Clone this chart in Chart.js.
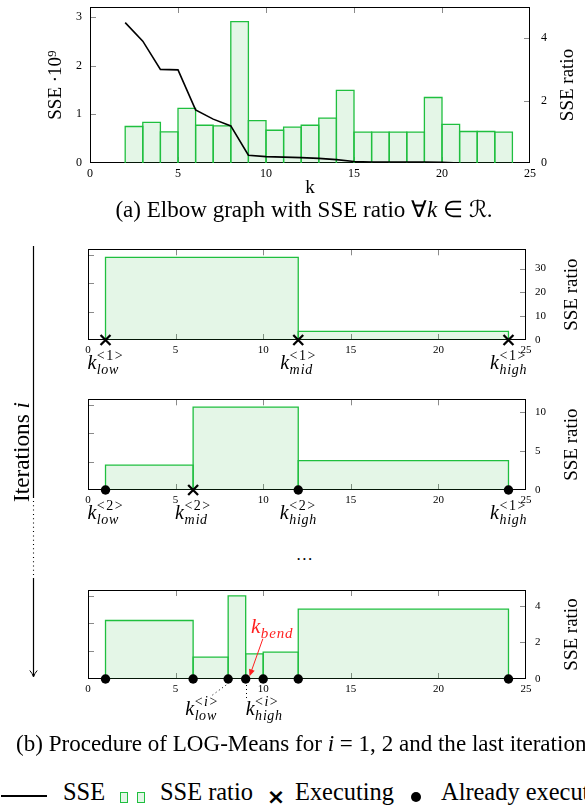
<!DOCTYPE html>
<html lang="en">
<head>
<meta charset="UTF-8">
<title>LOG-Means</title>
<style>
  html, body { margin: 0; padding: 0; background: #fff; }
  body { width: 585px; height: 808px; position: relative; overflow: hidden; font-family: "Liberation Serif", serif; color: #000; }
  canvas { position: absolute; left: 0; }
  .txt { position: absolute; white-space: nowrap; line-height: 1; }
  .box { position: absolute; width: 6px; height: 9px; border: 1px solid #1fbf3f; background: #e3f6e7; }
</style>
</head>
<body>
<canvas id="elbow" width="585" height="200" style="top:0"></canvas>
<div id="capA" class="txt" style="left:304px;top:205px;font-size:22px;transform:translateX(-50%)">(a) Elbow graph with SSE ratio ∀<i>k</i> ∈ ℛ.</div>

<svg width="60" height="700" style="position:absolute;left:0;top:0">
  <line x1="33.5" y1="246" x2="33.5" y2="498" stroke="#000" stroke-width="1.2"/>
  <line x1="33.5" y1="501" x2="33.5" y2="576" stroke="#000" stroke-width="1.1" stroke-dasharray="1 3.3"/>
  <line x1="33.5" y1="578" x2="33.5" y2="676" stroke="#000" stroke-width="1.2"/>
  <path d="M29.8 670.5 Q32.2 673 33.5 677 Q34.8 673 37.2 670.5" fill="none" stroke="#000" stroke-width="1"/>
</svg>
<div id="iterTxt" class="txt" style="left:22px;top:452px;font-size:20px;transform:translate(-50%,-50%) rotate(-90deg)">Iterations <i>i</i></div>

<canvas id="iter1" width="585" height="148" style="top:240px"></canvas>
<canvas id="iter2" width="585" height="148" style="top:390px"></canvas>
<div class="txt" style="left:305px;top:546px;font-size:17px;letter-spacing:1.5px;transform:translateX(-50%)">...</div>
<canvas id="iterLast" width="585" height="150" style="top:580px"></canvas>

<div id="capB" class="txt" style="left:16px;top:741px;font-size:22px">(b) Procedure of LOG-Means for <i>i</i> = 1, 2 and the last iteration</div>

<div style="position:absolute;left:1px;top:795px;width:46px;height:1.6px;background:#000"></div>
<div class="txt leg" style="left:63px;top:785px;font-size:22px">SSE</div>
<div class="box" style="left:120px;top:792px"></div>
<div class="box" style="left:137px;top:792px"></div>
<div class="txt leg" style="left:160px;top:785px;font-size:22px">SSE ratio</div>
<div class="txt" style="left:276px;top:797px;font-size:22px;font-weight:bold;font-family:'DejaVu Sans',sans-serif;transform:translate(-50%,-50%)">×</div>
<div id="legExec" class="txt leg" style="left:295px;top:785px;font-size:22px">Executing</div>
<div style="position:absolute;left:411px;top:792px;width:10px;height:10px;border-radius:50%;background:#000"></div>
<div class="txt leg" style="left:441px;top:785px;font-size:22px">Already executed</div>

<script src="https://cdn.jsdelivr.net/npm/chart.js"></script>
<script>
  // elbow graph (a)
  const k = [2,3,4,5,6,7,8,9,10,11,12,13,14,15,16,17,18,19,20,21,22,23,24];
  const sse = [2.88,2.50,1.92,1.91,1.09,0.90,0.76,0.16,0.13,0.12,0.11,0.095,0.07,0.03,0.02,0.02,0.02,0.02,0.015,0.0];
  const sseRatio = [1.17,1.30,1.00,1.75,1.21,1.19,4.53,1.36,1.05,1.15,1.21,1.44,2.33,0.99,0.99,0.99,0.99,2.10,1.24,1.01,1.01,0.99];

  // iteration 1
  const edges1 = [1,12,24];
  const ratio1 = [34.7,3.6];
  const running1 = [1,12,24];
  const done1 = [];
  const labels1 = [[1,'low','1'],[12,'mid','1'],[24,'high','1']];

  // iteration 2
  const edges2 = [1,6,12,24];
  const ratio2 = [3.2,10.7,3.8];
  const running2 = [6];
  const done2 = [1,12,24];
  const labels2 = [[1,'low','2'],[6,'mid','2'],[12,'high','2'],[24,'high','1']];

  // last iteration
  const edges3 = [1,6,8,9,10,12,24];
  const ratio3 = [3.2,1.2,4.55,1.37,1.47,3.82];
  const running3 = [];
  const done3 = [1,6,8,9,10,12,24];
  const labels3 = [[6.5,'low','i'],[10.05,'high','i']];
  const kLow = 8, kHigh = 9, kBend = 9;

  // fit html texts to the widths measured on the reference
  function fitText(el, w, vertical) {
    const fs = parseFloat(el.style.fontSize);
    const r = el.getBoundingClientRect();
    const size = fs * w / (vertical ? r.height : r.width);
    el.style.fontSize = size.toFixed(2) + 'px';
    return size;
  }
  const capSize = fitText(document.getElementById('capA'), 378);
  const capB = document.getElementById('capB');
  capB.style.fontSize = capSize.toFixed(2) + 'px';
  document.getElementById('capA').style.top = (219 - capSize * 0.89) + 'px';
  capB.style.top = (753 - capSize * 0.89) + 'px';
  fitText(document.getElementById('iterTxt'), 100, true);
  const legSize = fitText(document.getElementById('legExec'), 99);
  document.querySelectorAll('.leg').forEach(e => {
    e.style.fontSize = legSize.toFixed(2) + 'px';
    e.style.top = (802 - legSize * 0.89) + 'px';
  });

  const FONT = '"Liberation Serif", serif';
  const barLine = '#1fbf3f';
  const barFill = 'rgba(30,180,60,0.12)';
  const TICK = 6;

  Chart.defaults.font.family = FONT;
  Chart.defaults.color = '#000';

  function boxes(edges, values) {
    return values.map((h, i) => ({
      type: 'line', yAxisID: 'y2', order: 2,
      data: [{x: edges[i], y: 0}, {x: edges[i], y: h}, {x: edges[i+1], y: h}, {x: edges[i+1], y: 0}],
      borderColor: barLine, backgroundColor: barFill, borderWidth: 1.3,
      pointRadius: 0, fill: 'origin', tension: 0
    }));
  }

  function marks(vals, style) {
    const dot = style === 'circle';
    return {
      type: 'line', yAxisID: 'y2', order: 0, showLine: false, clip: false,
      data: vals.map(v => ({x: v, y: 0})),
      pointStyle: style, pointRadius: dot ? 4.7 : 7,
      pointBorderWidth: dot ? 0 : 2.3,
      pointBackgroundColor: '#000', pointBorderColor: '#000'
    };
  }

  function rotText(ctx, txt, x, y, size) {
    ctx.save();
    ctx.translate(x, y);
    ctx.rotate(-Math.PI / 2);
    ctx.font = size + 'px ' + FONT;
    ctx.textAlign = 'center';
    ctx.textBaseline = 'middle';
    ctx.fillText(txt, 0, 0);
    ctx.restore();
  }

  // k with subscript / superscript like k_low^<1>
  function drawK(ctx, cx, by, sub, sup, color, size) {
    const small = Math.round(size * 0.7);
    const kf = 'italic ' + size + 'px ' + FONT;
    const sf = 'italic ' + small + 'px ' + FONT;
    const uf = small + 'px ' + FONT;
    const gap = sup ? 1.5 : 0;
    ctx.font = kf; const wk = ctx.measureText('k').width;
    ctx.font = sf; const ws = ctx.measureText(sub).width * 1.12;
    let parts = [];
    let wu = 0;
    if (sup) {
      parts = [['<', uf], [sup, /[a-z]/.test(sup) ? sf : uf], ['>', uf]];
      parts.forEach(p => { ctx.font = p[1]; wu += ctx.measureText(p[0]).width + gap; });
    }
    const x0 = cx - (wk + Math.max(ws, wu)) / 2;
    ctx.fillStyle = color;
    ctx.textAlign = 'left';
    ctx.textBaseline = 'alphabetic';
    ctx.font = kf; ctx.fillText('k', x0, by);
    ctx.font = sf;
    let xs = x0 + wk + 0.5;
    for (const ch of sub) { ctx.fillText(ch, xs, by + 5); xs += ctx.measureText(ch).width * 1.12; }
    xs = x0 + wk + 0.5;
    parts.forEach(p => { ctx.font = p[1]; ctx.fillText(p[0], xs, by - 9); xs += ctx.measureText(p[0]).width + gap; });
  }

  const decor = {
    id: 'decor',
    beforeDatasetsDraw(chart, args, o) {
      const {ctx, chartArea: a, scales} = chart;
      ctx.save();
      ctx.lineWidth = 1;
      ctx.strokeStyle = '#8a8a8a';
      ctx.beginPath();
      for (const t of scales.x.ticks) {
        const p = Math.round(scales.x.getPixelForValue(t.value)) + 0.5;
        if (p < a.left + 2 || p > a.right - 2) continue;
        ctx.moveTo(p, a.bottom); ctx.lineTo(p, a.bottom - TICK);
        ctx.moveTo(p, a.top); ctx.lineTo(p, a.top + TICK);
      }
      for (const t of scales.y.ticks) {
        const p = Math.round(scales.y.getPixelForValue(t.value)) + 0.5;
        if (p > a.bottom - 2 || p < a.top + 2) continue;
        ctx.moveTo(a.left, p); ctx.lineTo(a.left + TICK, p);
      }
      for (const t of scales.y2.ticks) {
        const p = Math.round(scales.y2.getPixelForValue(t.value)) + 0.5;
        if (p > a.bottom - 2 || p < a.top + 2) continue;
        ctx.moveTo(a.right, p); ctx.lineTo(a.right - TICK, p);
      }
      ctx.stroke();
      ctx.strokeStyle = '#000';
      ctx.strokeRect(Math.round(a.left) + 0.5, Math.round(a.top) + 0.5,
                     Math.round(a.right - a.left) - 1, Math.round(a.bottom - a.top) - 1);
      ctx.restore();
    },
    afterDraw(chart, args, o) {
      const {ctx, chartArea: a, scales} = chart;
      const x = scales.x, y2 = scales.y2;
      const mid = (a.top + a.bottom) / 2;
      ctx.save();
      ctx.fillStyle = '#000';
      if (o.leftTitle) rotText(ctx, o.leftTitle, a.left - 34, mid, 19);
      rotText(ctx, 'SSE ratio', a.right + o.rightGap, mid, 19);
      if (o.xTitle) {
        ctx.font = '19px ' + FONT;
        ctx.textAlign = 'center';
        ctx.textBaseline = 'middle';
        ctx.fillText(o.xTitle, (a.left + a.right) / 2, a.bottom + 25);
      }
      (o.kLabels || []).forEach(l => drawK(ctx, x.getPixelForValue(l[0]), a.bottom + o.kDrop, l[1], l[2], '#000', 20));
      if (o.leaders) {
        ctx.strokeStyle = '#000';
        ctx.lineWidth = 1;
        ctx.setLineDash([1, 3]);
        ctx.beginPath();
        const pl = x.getPixelForValue(o.leaders.low);
        ctx.moveTo(pl - 2, a.bottom + 6); ctx.lineTo(pl - 17, a.bottom + 17);
        const ph = Math.round(x.getPixelForValue(o.leaders.high)) + 0.5;
        ctx.moveTo(ph, a.bottom + 6); ctx.lineTo(ph, a.bottom + 21);
        ctx.stroke();
        ctx.setLineDash([]);
      }
      if (o.bend !== undefined) {
        const red = '#ff1f1f';
        drawK(ctx, x.getPixelForValue(o.bend + 1.5), y2.getPixelForValue(2.5), 'bend', '', red, 21);
        const x1 = x.getPixelForValue(o.bend + 0.98), yA = y2.getPixelForValue(2.2);
        const x2 = x.getPixelForValue(o.bend + 0.22), yB = y2.getPixelForValue(0.15);
        const ang = Math.atan2(yB - yA, x2 - x1);
        ctx.strokeStyle = red; ctx.fillStyle = red; ctx.lineWidth = 1;
        ctx.beginPath(); ctx.moveTo(x1, yA); ctx.lineTo(x2 - 5 * Math.cos(ang), yB - 5 * Math.sin(ang)); ctx.stroke();
        ctx.beginPath();
        ctx.moveTo(x2, yB);
        ctx.lineTo(x2 - 7 * Math.cos(ang) + 3 * Math.sin(ang), yB - 7 * Math.sin(ang) - 3 * Math.cos(ang));
        ctx.lineTo(x2 - 7 * Math.cos(ang) - 3 * Math.sin(ang), yB - 7 * Math.sin(ang) + 3 * Math.cos(ang));
        ctx.closePath(); ctx.fill();
      }
      ctx.restore();
    }
  };

  function noPad(s) { s.paddingTop = 0; s.paddingBottom = 0; s.paddingLeft = 0; s.paddingRight = 0; }

  function makeChart(id, c) {
    return new Chart(document.getElementById(id), {
      type: 'line',
      data: {datasets: c.datasets},
      options: {
        responsive: false, animation: false, devicePixelRatio: 1, events: [],
        layout: {padding: {top: c.top, left: 0, right: 0, bottom: 0}},
        plugins: {legend: {display: false}, tooltip: {enabled: false}, decor: c.decor},
        scales: {
          x: {
            type: 'linear', min: 0, max: 25,
            ticks: {stepSize: 5, padding: c.xPad, font: {size: c.tickSize}, maxRotation: 0, autoSkip: false},
            grid: {display: false, drawTicks: false}, border: {display: false},
            afterFit: s => { s.height = c.xHeight; noPad(s); }
          },
          y: {
            position: 'left', min: 0, max: 3.2,
            ticks: {stepSize: 1, includeBounds: false, display: c.leftLabels, padding: 8, font: {size: c.tickSize}},
            grid: {display: false, drawTicks: false}, border: {display: false},
            afterFit: s => { s.width = c.left; noPad(s); }
          },
          y2: {
            position: 'right', min: 0, max: c.ratioMax,
            ticks: {stepSize: c.ratioStep, includeBounds: false, padding: c.rPad, font: {size: c.tickSize}},
            grid: {display: false, drawTicks: false}, border: {display: false},
            afterFit: s => { s.width = c.right; noPad(s); }
          }
        }
      },
      plugins: [decor]
    });
  }

  makeChart('elbow', {
    top: 7, xHeight: 37, left: 90, right: 55, tickSize: 12, xPad: 4, rPad: 11, leftLabels: true,
    ratioMax: 5, ratioStep: 2,
    decor: {leftTitle: 'SSE ·10⁹', rightGap: 38, xTitle: 'k'},
    datasets: [
      {type: 'line', yAxisID: 'y', order: 0, data: sse.map((v, i) => ({x: k[i], y: v})),
       borderColor: '#000', borderWidth: 1.6, pointRadius: 0, fill: false, tension: 0},
      ...boxes(k, sseRatio)
    ]
  });

  makeChart('iter1', {
    top: 9, xHeight: 48, left: 88, right: 59, tickSize: 11, xPad: 4, rPad: 9, leftLabels: false,
    ratioMax: 38.1, ratioStep: 10,
    decor: {rightGap: 46, kLabels: labels1, kDrop: 29},
    datasets: [marks(running1, 'crossRot'), marks(done1, 'circle'), ...boxes(edges1, ratio1)]
  });

  makeChart('iter2', {
    top: 9, xHeight: 48, left: 88, right: 59, tickSize: 11, xPad: 4, rPad: 9, leftLabels: false,
    ratioMax: 11.7, ratioStep: 5,
    decor: {rightGap: 46, kLabels: labels2, kDrop: 29},
    datasets: [marks(running2, 'crossRot'), marks(done2, 'circle'), ...boxes(edges2, ratio2)]
  });

  makeChart('iterLast', {
    top: 10, xHeight: 51, left: 88, right: 59, tickSize: 11, xPad: 4, rPad: 9, leftLabels: false,
    ratioMax: 4.87, ratioStep: 2,
    decor: {rightGap: 46, kLabels: labels3, kDrop: 36, leaders: {low: kLow, high: kHigh}, bend: kBend},
    datasets: [marks(running3, 'crossRot'), marks(done3, 'circle'), ...boxes(edges3, ratio3)]
  });
</script>
</body>
</html>
